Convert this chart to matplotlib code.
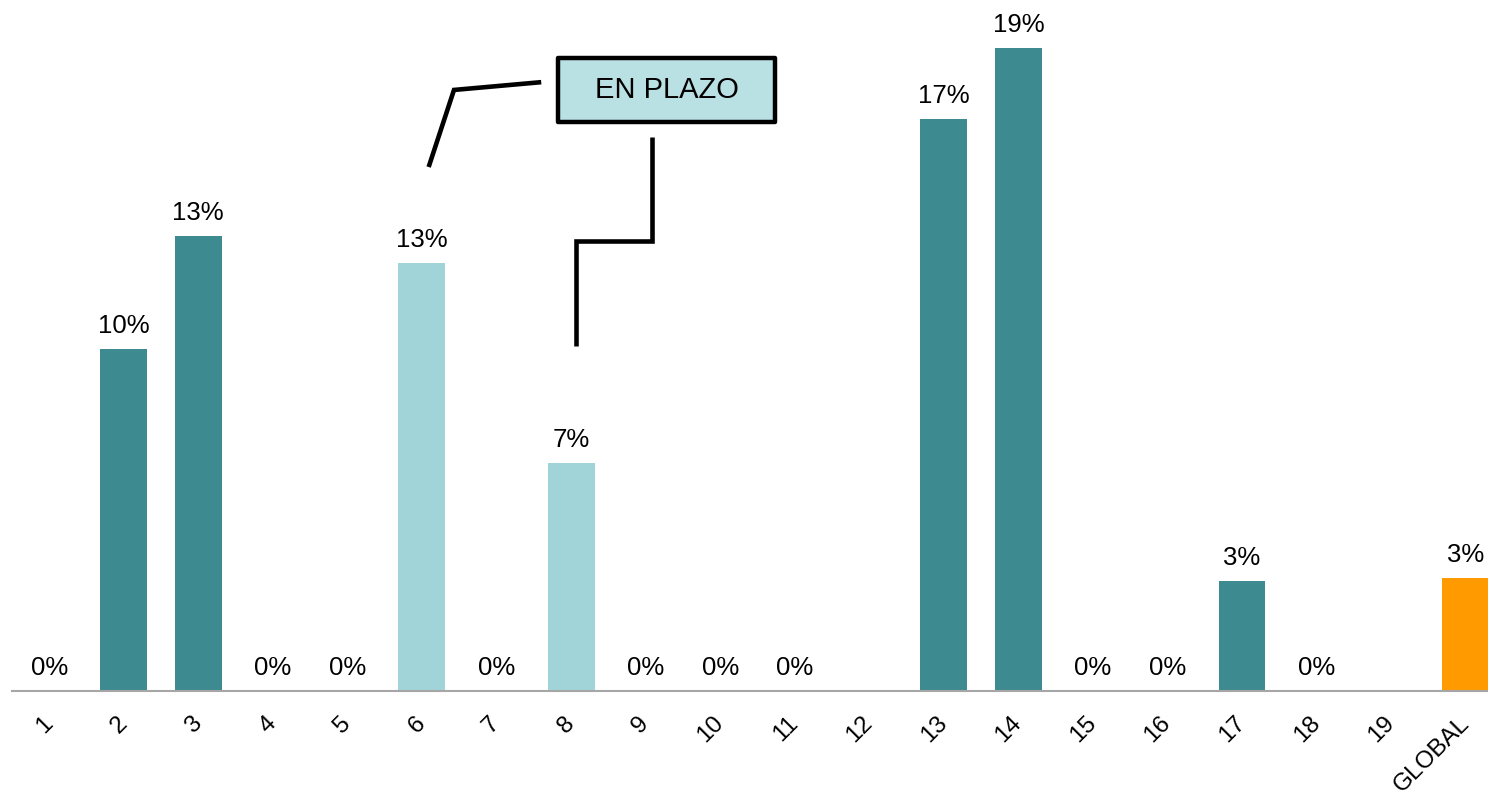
import matplotlib
matplotlib.use('Agg')
import matplotlib.pyplot as plt
import numpy as np
from matplotlib.patches import FancyBboxPatch

plt.rcParams['font.family'] = ['Liberation Sans', 'DejaVu Sans']

categories = ['1', '2', '3', '4', '5', '6', '7', '8', '9', '10', '11', '12',
              '13', '14', '15', '16', '17', '18', '19', 'GLOBAL']
# percent values, nan = no data
values = [0, 10.1, 13.45, 0, 0, 12.65, 0, 6.74, 0, 0, 0, np.nan,
          16.9, 19.0, 0, 0, 3.25, 0, np.nan, 3.33]
groups = ['fuera', 'fuera', 'fuera', 'fuera', 'fuera', 'plazo', 'fuera', 'plazo',
          'fuera', 'fuera', 'fuera', 'fuera', 'fuera', 'fuera', 'fuera', 'fuera',
          'fuera', 'fuera', 'fuera', 'global']
group_colors = {'fuera': '#3E8A91', 'plazo': '#A1D4D8', 'global': '#FF9A00'}
callout_text = 'EN PLAZO'

fig = plt.figure(figsize=(14.88, 7.94), dpi=100)
ax = fig.add_axes([0.008, 0.130, 0.992, 0.870])

x = np.arange(len(categories))
vals = np.array(values, dtype=float)
cols = [group_colors[g] for g in groups]
ax.bar(x, np.nan_to_num(vals), width=0.63, color=cols, zorder=2)

for xi, v in zip(x, vals):
    if np.isnan(v):
        continue
    ax.annotate('%d%%' % round(v), (xi, v), xytext=(0, 8),
                textcoords='offset points', ha='center', va='bottom',
                fontsize=18.5, color='black')

ax.set_xlim(-0.5, 19.3)
ax.set_ylim(0, 20.43)
ax.set_xticks(x)
ax.set_xticklabels(categories, rotation=45, ha='right', va='center',
                   rotation_mode='anchor', fontsize=17.5, color='black')
ax.tick_params(axis='x', length=0, pad=21)
ax.set_yticks([])
for s in ['top', 'left', 'right']:
    ax.spines[s].set_visible(False)
ax.spines['bottom'].set_color('#A6A6A6')
ax.spines['bottom'].set_linewidth(1.5)

# callout box and connector lines
box = FancyBboxPatch((6.83, 16.82), 2.9, 1.9, boxstyle='square,pad=0',
                     facecolor='#B9E0E3', edgecolor='black', linewidth=3.2,
                     joinstyle='round', zorder=3, clip_on=False)
ax.add_patch(box)
ax.text(8.28, 17.77, callout_text, ha='center', va='center', fontsize=21,
        color='black', zorder=4)
ax.plot([6.60, 5.43, 5.09], [18.0, 17.77, 15.49], color='black', lw=3.3,
        solid_joinstyle='miter', solid_capstyle='butt', clip_on=False)
ax.plot([8.08, 8.08, 7.07, 7.07], [16.38, 13.30, 13.30, 10.2], color='black',
        lw=3.3, solid_joinstyle='miter', solid_capstyle='butt', clip_on=False)

plt.savefig('out.png', dpi=100)
